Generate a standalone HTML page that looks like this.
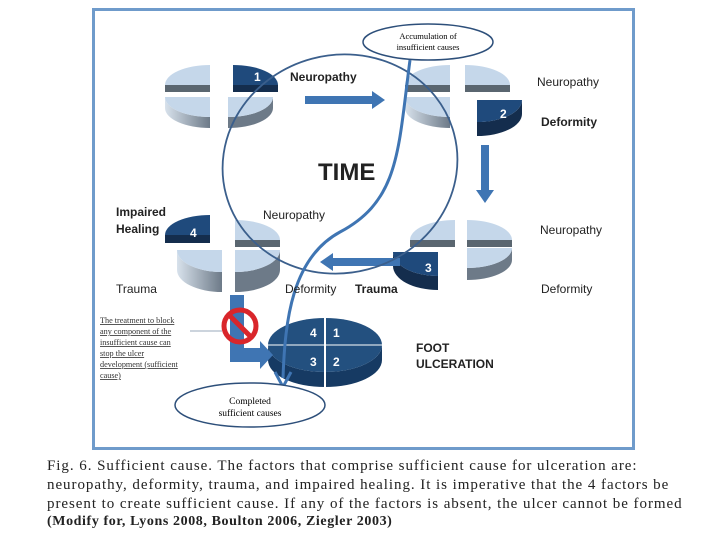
<!DOCTYPE html>
<html><head><meta charset="utf-8"><style>
body{margin:0;background:#fff;width:720px;height:540px;overflow:hidden;font-family:"Liberation Sans",sans-serif}
.cap{position:absolute;left:47px;font-family:"Liberation Serif",serif;font-size:15px;letter-spacing:0.95px;color:#222;white-space:nowrap}
</style></head><body>
<svg width="720" height="540" style="position:absolute;left:0;top:0" font-family="Liberation Sans, sans-serif">
<defs>
<linearGradient id="ls" x1="0" x2="1"><stop offset="0" stop-color="#d8e2ec"/><stop offset="1" stop-color="#6d7a88"/></linearGradient>
</defs>
<rect x="93.5" y="9.5" width="540" height="439" fill="none" stroke="#6f9bcb" stroke-width="3"/>
<g id="pies">
<path d="M210,85 L165,85 A45,20 0 0 1 210,65Z" fill="#c5d7ea"/><rect x="165" y="85" width="45" height="7" fill="#5a6670"/>
<path d="M233,85 L233,65 A45,20 0 0 1 278,85Z" fill="#1f4a7c"/><rect x="233" y="85" width="45" height="7" fill="#142d4d"/>
<path d="M165,97 A45,20 0 0 0 210,117 L210,128 A45,20 0 0 1 165,108Z" fill="url(#ls)"/><path d="M210,97 L165,97 A45,20 0 0 0 210,117Z" fill="#c5d7ea"/>
<path d="M273,97 A45,20 0 0 1 228,117 L228,128 A45,20 0 0 0 273,108Z" fill="#6d7a88"/><path d="M228,97 L273,97 A45,20 0 0 1 228,117Z" fill="#c5d7ea"/>
<path d="M450,85 L405,85 A45,20 0 0 1 450,65Z" fill="#c5d7ea"/><rect x="405" y="85" width="45" height="7" fill="#5a6670"/>
<path d="M465,85 L465,65 A45,20 0 0 1 510,85Z" fill="#c5d7ea"/><rect x="465" y="85" width="45" height="7" fill="#5a6670"/>
<path d="M405,97 A45,20 0 0 0 450,117 L450,128 A45,20 0 0 1 405,108Z" fill="url(#ls)"/><path d="M450,97 L405,97 A45,20 0 0 0 450,117Z" fill="#c5d7ea"/>
<path d="M522,100 A45,22 0 0 1 477,122 L477,136 A45,22 0 0 0 522,114Z" fill="#142d4d"/><path d="M477,100 L522,100 A45,22 0 0 1 477,122Z" fill="#1f4a7c"/>
<path d="M455,240 L410,240 A45,20 0 0 1 455,220Z" fill="#c5d7ea"/><rect x="410" y="240" width="45" height="7" fill="#5a6670"/>
<path d="M467,240 L467,220 A45,20 0 0 1 512,240Z" fill="#c5d7ea"/><rect x="467" y="240" width="45" height="7" fill="#5a6670"/>
<path d="M393,252 A45,24 0 0 0 438,276 L438,290 A45,24 0 0 1 393,266Z" fill="#142d4d"/><path d="M438,252 L393,252 A45,24 0 0 0 438,276Z" fill="#1f4a7c"/>
<path d="M512,248 A45,20 0 0 1 467,268 L467,280 A45,20 0 0 0 512,260Z" fill="#6d7a88"/><path d="M467,248 L512,248 A45,20 0 0 1 467,268Z" fill="#c5d7ea"/>
<path d="M210,235 L165,235 A45,20 0 0 1 210,215Z" fill="#1f4a7c"/><rect x="165" y="235" width="45" height="8" fill="#142d4d"/>
<path d="M235,240 L235,220 A45,20 0 0 1 280,240Z" fill="#c5d7ea"/><rect x="235" y="240" width="45" height="7" fill="#5a6670"/>
<path d="M177,250 A45,22 0 0 0 222,272 L222,292 A45,22 0 0 1 177,270Z" fill="url(#ls)"/><path d="M222,250 L177,250 A45,22 0 0 0 222,272Z" fill="#c5d7ea"/>
<path d="M280,250 A45,22 0 0 1 235,272 L235,292 A45,22 0 0 0 280,270Z" fill="#6d7a88"/><path d="M235,250 L280,250 A45,22 0 0 1 235,272Z" fill="#c5d7ea"/>
</g>
<path d="M268,345 A57,27 0 0 0 382,345 L382,360 A57,27 0 0 1 268,360Z" fill="#163a63"/>
<ellipse cx="325" cy="345" rx="57" ry="27" fill="#23507f"/>
<line x1="268" y1="345" x2="382" y2="345" stroke="#fff" stroke-width="1"/>
<line x1="325" y1="318" x2="325" y2="387" stroke="#fff" stroke-width="2"/>
<g fill="#fff" font-weight="bold" font-size="12">
<text x="254" y="81">1</text><text x="500" y="118">2</text><text x="425" y="272">3</text><text x="190" y="237">4</text>
<text x="310" y="337">4</text><text x="333" y="337">1</text><text x="310" y="366">3</text><text x="333" y="366">2</text></g>
<g fill="#3f75b3">
<path d="M305,96 H372 V91 L385,100 L372,109 V104 H305Z"/>
<path d="M481,145 H489 V190 H494 L485,203 L476,190 H481Z"/>
<path d="M400,258 V266 H333 V271 L320,262 L333,253 V258Z"/>
<path d="M230,295 H244 V348 H260 V341 L273,355 L260,369 V362 H230Z"/>
</g>
<ellipse cx="340" cy="164" rx="118" ry="109" fill="none" stroke="#3b5f8c" stroke-width="1.8" transform="rotate(-15 340 164)"/>
<path d="M410,60 C398,150 400,200 340,232 C292,258 285,320 283,378" fill="none" stroke="#3f75b3" stroke-width="3"/>
<path d="M275,372 L283,387 L291,372" fill="none" stroke="#3f75b3" stroke-width="3"/>
<ellipse cx="428" cy="42" rx="65" ry="18" fill="#fff" stroke="#2d4f7a" stroke-width="1.5"/>
<text x="428" y="39" font-family="Liberation Serif, serif" font-size="8.5" text-anchor="middle">Accumulation of</text>
<text x="428" y="50" font-family="Liberation Serif, serif" font-size="8.5" text-anchor="middle">insufficient causes</text>
<ellipse cx="250" cy="405" rx="75" ry="22" fill="#fff" stroke="#2d4f7a" stroke-width="1.5"/>
<text x="250" y="404" font-family="Liberation Serif, serif" font-size="9.5" text-anchor="middle">Completed</text>
<text x="250" y="416" font-family="Liberation Serif, serif" font-size="9.5" text-anchor="middle">sufficient causes</text>
<circle cx="240" cy="326" r="16" fill="none" stroke="#d9262b" stroke-width="5"/>
<line x1="229" y1="315" x2="251" y2="337" stroke="#d9262b" stroke-width="5"/>
<line x1="190" y1="331" x2="222" y2="331" stroke="#9ab" stroke-width="1"/>
<g font-family="Liberation Serif, serif" font-size="8.2" text-decoration="underline" fill="#333">
<text x="100" y="323">The  treatment  to block</text><text x="100" y="334">any component of the</text>
<text x="100" y="345">insufficient cause  can</text><text x="100" y="356">stop the ulcer</text>
<text x="100" y="367">development (sufficient</text><text x="100" y="378" text-decoration="none">cause)</text></g>
<g font-size="12" fill="#222">
<text x="290" y="81" font-weight="bold">Neuropathy</text>
<text x="537" y="86">Neuropathy</text><text x="541" y="126" font-weight="bold">Deformity</text>
<text x="116" y="216" font-weight="bold">Impaired</text><text x="116" y="233" font-weight="bold">Healing</text>
<text x="263" y="219">Neuropathy</text><text x="540" y="234">Neuropathy</text>
<text x="116" y="293">Trauma</text><text x="285" y="293">Deformity</text>
<text x="355" y="293" font-weight="bold">Trauma</text><text x="541" y="293">Deformity</text>
<text x="416" y="352" font-weight="bold">FOOT</text><text x="416" y="368" font-weight="bold">ULCERATION</text>
</g>
<text x="318" y="180" font-size="24" font-weight="bold" fill="#222">TIME</text>
</svg>
<div class="cap" style="top:458px">Fig. 6. Sufficient cause. The factors that comprise sufficient cause for ulceration are:</div>
<div class="cap" style="top:477px">neuropathy, deformity, trauma, and impaired healing. It is imperative that the 4 factors be</div>
<div class="cap" style="top:496px">present to create sufficient cause. If any of the factors is absent, the ulcer cannot be formed</div>
<div class="cap" style="top:514px;font-weight:bold;font-size:14px;letter-spacing:0.6px">(Modify for, Lyons 2008, Boulton 2006, Ziegler 2003)</div>
</body></html>
